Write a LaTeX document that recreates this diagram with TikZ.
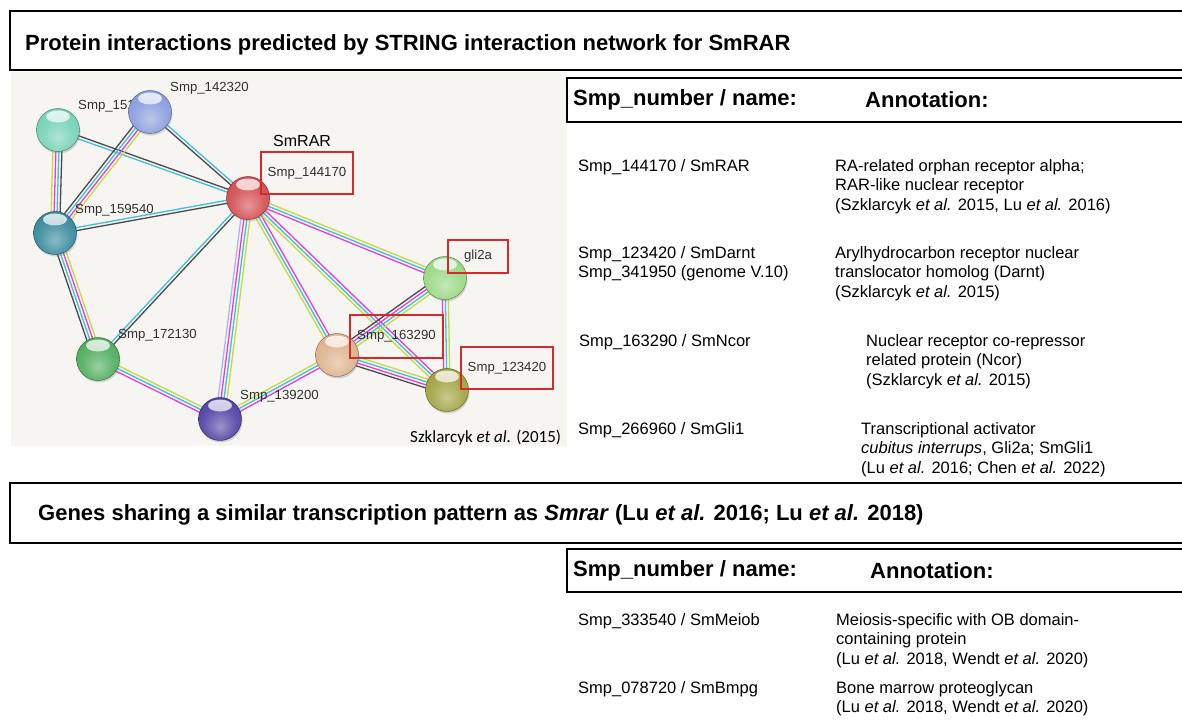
\documentclass[tikz,border=0pt]{standalone}
\usepackage{fontspec}
\setmainfont{Liberation Sans}
\newfontfamily\calibfont{Carlito}
\usetikzlibrary{calc,shadows}

% evidence channel colours of the interaction lines
\definecolor{evyel}{HTML}{C6DA3E}
\definecolor{evcyan}{HTML}{3EBFDD}
\definecolor{evmag}{HTML}{DE3FE2}
\definecolor{evblk}{HTML}{4A4A4A}
\definecolor{evlav}{HTML}{B3B3F4}
\definecolor{netbg}{HTML}{F6F5F2}
\definecolor{boxred}{HTML}{D32A2A}
\definecolor{labgrey}{HTML}{303030}
% protein sphere colours
\definecolor{c151}{HTML}{6FCFB2}
\definecolor{c142}{HTML}{8399DA}
\definecolor{crar}{HTML}{D04448}
\definecolor{c159}{HTML}{2E8497}
\definecolor{c172}{HTML}{45A956}
\definecolor{c139}{HTML}{4A3A9E}
\definecolor{c163}{HTML}{DCAE86}
\definecolor{cgli}{HTML}{95D67E}
\definecolor{c123}{HTML}{9C9E36}

\colorlet{sphc}{gray}
\pgfdeclareradialshading[sphc]{glossysphere}{\pgfpoint{0bp}{-9bp}}{%
  color(0bp)=(sphc!55!white); color(18bp)=(sphc!85!white);
  color(34bp)=(sphc); color(48bp)=(sphc!75!black); color(60bp)=(sphc!55!black)}

\pgfdeclarelayer{bg}
\pgfdeclarelayer{edges}
\pgfsetlayers{bg,edges,main}

% one interaction: parallel coloured lines, each shifted sideways
\newcommand\bundle[3]{%
  \foreach \c/\o in {#3}{%
    \draw[evline,\c] ($(#1)!\o pt!90:(#2)$) -- ($(#2)!\o pt!-90:(#1)$);
  }}

\begin{document}
\begin{tikzpicture}[x=1pt,y=-1pt,
  banner/.style={draw=black, line width=2.6pt},
  title/.style={anchor=west, inner sep=0pt, font=\fontsize{22}{26}\selectfont\bfseries},
  hdr/.style={anchor=west, inner sep=0pt, font=\fontsize{22}{26}\selectfont\bfseries},
  cell/.style={anchor=north west, inner sep=0pt, align=left, font=\fontsize{16.5}{19.5}\selectfont},
  netlab/.style={anchor=west, inner sep=0pt, text=labgrey, font=\fontsize{13.2}{15}\selectfont},
  redlab/.style={draw=boxred, line width=1.3pt, inner sep=0pt, text=labgrey, font=\fontsize{13.2}{15}\selectfont},
  evline/.style={line width=1.3pt},
  sphere/.style={circle, minimum size=43pt, inner sep=0pt,
    /utils/exec={\colorlet{sphc}{#1}}, shade, shading=glossysphere,
    draw=#1!55!black, line width=0.4pt,
    drop shadow={shadow xshift=1pt, shadow yshift=-2pt, opacity=0.3},
    path picture={\shade[top color=white, bottom color=sphc!40!white, opacity=0.8]
      ($(path picture bounding box.north)+(0,8)$) ellipse (12pt and 6pt);}}
]
\useasboundingbox (0,0) rectangle (1182,727);
\clip (0,0) rectangle (1182,727);
\begin{pgfonlayer}{bg}
  \fill[white] (0,0) rectangle (1182,727);
  \fill[netbg] (11,72) rectangle (567,446);
\end{pgfonlayer}

% ---------- upper section ----------
\draw[banner] (10,11) rectangle (1195,70);
\node[title] (t1) at (25,45) {Protein interactions predicted by STRING interaction network for SmRAR};

% labels lying under the spheres
\node[netlab] (l151) at (78,106) {Smp\_151};
\node[netlab] (l142) at (170,88) {Smp\_142320};
\node[anchor=west, inner sep=0pt, font=\fontsize{16}{18}\selectfont] (lrar) at (273,141) {SmRAR};
\node[netlab] (l159) at (75,210) {Smp\_159540};
\node[netlab] (l172) at (118,335) {Smp\_172130};
\node[netlab] (l139) at (240,396) {Smp\_139200};

% proteins
\node[sphere=c151] (n151) at (58,130) {};
\node[sphere=c142] (n142) at (150,112) {};
\node[sphere=crar] (rar) at (248,198) {};
\node[sphere=c159] (n159) at (55,233) {};
\node[sphere=c172] (n172) at (98,359) {};
\node[sphere=c139] (n139) at (220,419) {};
\node[sphere=c163] (n163) at (337,355) {};
\node[sphere=cgli] (gli) at (445,278) {};
\node[sphere=c123] (n123) at (447,390) {};

% highlighted identifiers
\node[redlab, minimum width=92pt, minimum height=42pt] (b144) at (307,173) {Smp\_144170};
\node[redlab, minimum width=60pt, minimum height=33pt] (bgli) at (478,256.5) {gli2a};
\node[redlab, minimum width=93pt, minimum height=43pt] (b163) at (396.5,336.5) {Smp\_163290};
\node[redlab, minimum width=92pt, minimum height=42pt] (b123) at (507,368) {Smp\_123420};

\node[anchor=west, inner sep=0pt, font=\calibfont\fontsize{17}{20}\selectfont] (src) at (410,438) {Szklarcyk \textit{et al.} (2015)};

% interactions
\begin{pgfonlayer}{edges}
  \bundle{n151}{n159}{evyel/-4.5, evmag/-1.5, evcyan/1.5, evblk/4.5}
  \bundle{n151}{rar}{evcyan/-1.5, evblk/1.5}
  \bundle{n142}{n159}{evyel/4.5, evmag/1.5, evcyan/-1.5, evblk/-4.5}
  \bundle{n142}{rar}{evcyan/1.5, evblk/-1.5}
  \bundle{n159}{rar}{evcyan/1.5, evblk/-1.5}
  \bundle{n172}{rar}{evcyan/1.5, evblk/-1.5}
  \bundle{n159}{n172}{evyel/4.5, evmag/1.5, evcyan/-1.5, evblk/-4.5}
  \bundle{n172}{n139}{evyel/3, evcyan/0, evmag/-3}
  \bundle{rar}{n139}{evlav/-4.5, evmag/-1.5, evcyan/1.5, evyel/4.5}
  \bundle{n139}{n163}{evmag/-3, evcyan/0, evyel/3}
  \bundle{rar}{n163}{evyel/-3, evcyan/0, evmag/3}
  \bundle{rar}{gli}{evyel/3, evcyan/0, evmag/-3}
  \bundle{rar}{n123}{evmag/3, evcyan/0, evyel/-3}
  \bundle{gli}{n163}{evyel/4.5, evcyan/1.5, evmag/-1.5, evblk/-4.5}
  \bundle{gli}{n123}{evyel/3, evcyan/0, evmag/-3}
  \bundle{n163}{n123}{evyel/4.5, evcyan/1.5, evmag/-1.5, evblk/-4.5}
\end{pgfonlayer}

% table of interaction partners
\draw[banner] (567,78) rectangle (1195,122);
\node[hdr] (h1a) at (573,100) {Smp\_number / name:};
\node[hdr] (h1b) at (865,100) {Annotation:};

\node[cell] (r1a) at (578,159) {Smp\_144170 / SmRAR};
\node[cell] (r1b) at (835,159) {RA-related orphan receptor alpha;\\RAR-like nuclear receptor\\(Szklarcyk \textit{et al.} 2015, Lu \textit{et al.} 2016)};
\node[cell] (r2a) at (578,246) {Smp\_123420 / SmDarnt\\Smp\_341950 (genome V.10)};
\node[cell] (r2b) at (835,246) {Arylhydrocarbon receptor nuclear\\translocator homolog (Darnt)\\(Szklarcyk \textit{et al.} 2015)};
\node[cell] (r3a) at (579,334) {Smp\_163290 / SmNcor};
\node[cell] (r3b) at (866,334) {Nuclear receptor co-repressor\\related protein (Ncor)\\(Szklarcyk \textit{et al.} 2015)};
\node[cell] (r4a) at (578,422) {Smp\_266960 / SmGli1};
\node[cell] (r4b) at (861,422) {Transcriptional activator\\\textit{cubitus interrups}, Gli2a; SmGli1\\(Lu \textit{et al.} 2016; Chen \textit{et al.} 2022)};

% ---------- lower section ----------
\draw[banner] (10,483) rectangle (1195,543);
\node[title] (t2) at (38,515) {Genes sharing a similar transcription pattern as \textit{Smrar} (Lu \textit{et al.} 2016; Lu \textit{et al.} 2018)};

\draw[banner] (567,549) rectangle (1195,592);
\node[hdr] (h2a) at (573,571) {Smp\_number / name:};
\node[hdr] (h2b) at (870,571) {Annotation:};

\node[cell] (s1a) at (578,613) {Smp\_333540 / SmMeiob};
\node[cell] (s1b) at (836,613) {Meiosis-specific with OB domain-\\containing protein\\(Lu \textit{et al.} 2018, Wendt \textit{et al.} 2020)};
\node[cell] (s2a) at (578,681) {Smp\_078720 / SmBmpg};
\node[cell] (s2b) at (836,681) {Bone marrow proteoglycan\\(Lu \textit{et al.} 2018, Wendt \textit{et al.} 2020)};
\end{tikzpicture}
\end{document}
